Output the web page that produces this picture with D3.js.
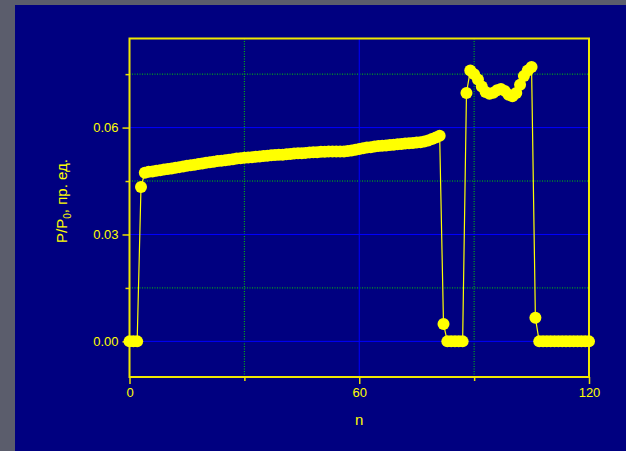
<!DOCTYPE html>
<html>
<head>
<meta charset="utf-8">
<script src="https://cdn.jsdelivr.net/npm/d3@7"></script>
<style>
   body { margin: 0; background: #5b5d6c; }
   .tick text { font-family: "Liberation Sans", Arial, sans-serif; font-size: 13px; fill: #ffff00; }
   .label { font-family: "Liberation Sans", Arial, sans-serif; fill: #ffff00; }
</style>
</head>
<body>
<div id="chart"></div>
<script>
const width = 626;
const height = 451;

// n = 0..120
const zerosStart = [0, 0, 0];
const risePoint  = [0.0433];
const plateau = [
   0.0473, 0.0476, 0.0477, 0.0479, 0.0480, 0.0482, 0.0484, 0.0485, 0.0487, 0.0489,
   0.0491, 0.0493, 0.0494, 0.0496, 0.0498, 0.0499, 0.0501, 0.0503, 0.0504, 0.0506,
   0.0507, 0.0508, 0.0510, 0.0511, 0.0513, 0.0514, 0.0515, 0.0516, 0.0517, 0.0518,
   0.0519, 0.0520, 0.0521, 0.0522, 0.0523, 0.0524, 0.0524, 0.0525, 0.0526, 0.0527,
   0.0528, 0.0528, 0.0529, 0.0530, 0.0531, 0.0531, 0.0532, 0.0532, 0.0533, 0.0533,
   0.0533, 0.0533, 0.0533, 0.0534, 0.0536, 0.0538, 0.0540, 0.0542, 0.0544, 0.0545,
   0.0547, 0.0548, 0.0549, 0.0550, 0.0551, 0.0552, 0.0553, 0.0554, 0.0555, 0.0556,
   0.0557, 0.0558, 0.0559, 0.0561, 0.0564, 0.0568, 0.0572, 0.0577
];
const drop1  = [0.0049, 0, 0, 0, 0, 0];
const peak   = [
   0.0697, 0.0760, 0.0750, 0.0735, 0.0715, 0.0700, 0.0695, 0.0698, 0.0705,
   0.0708, 0.0703, 0.0692, 0.0688, 0.0697, 0.0720, 0.0745, 0.0760, 0.0770
];
const drop2  = [0.0066, 0, 0, 0, 0, 0, 0, 0, 0, 0, 0, 0, 0, 0, 0];

const yValues = [].concat(zerosStart, risePoint, plateau, drop1, peak, drop2);
const data = yValues.map((v, i) => ({ n: i, v: v }));

const xMajor = [0, 60, 120];
const xMinor = [30, 90];
const yMajor = [0, 0.03, 0.06];
const yMinor = [0.015, 0.045, 0.075];

const margin = { top: 38.5, right: 37, bottom: 74, left: 129.5 };

const svg = d3.select("#chart").append("svg")
   .attr("width", width)
   .attr("height", height);

// navy panel
svg.append("rect")
   .attr("x", 15).attr("y", 5)
   .attr("width", width - 15).attr("height", height - 5)
   .style("fill", "#000080");

const x = d3.scaleLinear()
   .domain([0, 120])
   .range([margin.left, width - margin.right]);

const y = d3.scaleLinear()
   .domain([-0.01, 0.085])
   .range([height - margin.bottom, margin.top]);

// minor grid (dotted green)
svg.selectAll("line.xminor")
   .data(xMinor).enter().append("line")
   .attr("x1", d => x(d)).attr("x2", d => x(d))
   .attr("y1", y.range()[1]).attr("y2", y.range()[0])
   .style("stroke", "#00d000").style("stroke-width", 1)
   .style("stroke-dasharray", "1,1.5");
svg.selectAll("line.yminor")
   .data(yMinor).enter().append("line")
   .attr("x1", x.range()[0]).attr("x2", x.range()[1])
   .attr("y1", d => y(d)).attr("y2", d => y(d))
   .style("stroke", "#00d000").style("stroke-width", 1)
   .style("stroke-dasharray", "1,1.5");

// major grid (solid blue)
svg.selectAll("line.xmajor")
   .data(xMajor.slice(1, -1)).enter().append("line")
   .attr("x1", d => x(d)).attr("x2", d => x(d))
   .attr("y1", y.range()[1]).attr("y2", y.range()[0])
   .style("stroke", "#0000ff").style("stroke-width", 1);
svg.selectAll("line.ymajor")
   .data(yMajor).enter().append("line")
   .attr("x1", x.range()[0]).attr("x2", x.range()[1])
   .attr("y1", d => y(d)).attr("y2", d => y(d))
   .style("stroke", "#0000ff").style("stroke-width", 1);

// axes
const xAxis = svg.append("g")
   .attr("transform", "translate(0," + y.range()[0] + ")")
   .call(d3.axisBottom(x).tickValues(xMajor).tickSize(7).tickPadding(4).tickFormat(d3.format("d")));
const xAxisMinor = svg.append("g")
   .attr("transform", "translate(0," + y.range()[0] + ")")
   .call(d3.axisBottom(x).tickValues(xMinor).tickSize(4).tickFormat(""));
const yAxis = svg.append("g")
   .attr("transform", "translate(" + x.range()[0] + ",0)")
   .call(d3.axisLeft(y).tickValues(yMajor).tickSize(7).tickPadding(4).tickFormat(d3.format(".2f")));
const yAxisMinor = svg.append("g")
   .attr("transform", "translate(" + x.range()[0] + ",0)")
   .call(d3.axisLeft(y).tickValues(yMinor).tickSize(4).tickFormat(""));

[xAxis, xAxisMinor, yAxis, yAxisMinor].forEach(g => {
   g.select(".domain").remove();
   g.selectAll(".tick line").style("stroke", "#e8e000").style("stroke-width", 1.5);
});

// frame
svg.append("rect")
   .attr("x", x.range()[0]).attr("y", y.range()[1])
   .attr("width", x.range()[1] - x.range()[0])
   .attr("height", y.range()[0] - y.range()[1])
   .style("fill", "none")
   .style("stroke", "#f0e800").style("stroke-width", 2);

// data
const line = d3.line().x(d => x(d.n)).y(d => y(d.v));
svg.append("path")
   .datum(data)
   .attr("d", line)
   .style("fill", "none")
   .style("stroke", "#ffff00").style("stroke-width", 1.2);

svg.selectAll("circle.pt")
   .data(data).enter().append("circle")
   .attr("class", "pt")
   .attr("cx", d => x(d.n)).attr("cy", d => y(d.v))
   .attr("r", 6)
   .style("fill", "#ffff00");

// labels
svg.append("text")
   .attr("class", "label")
   .attr("x", x(60)).attr("y", 425)
   .style("text-anchor", "middle")
   .style("font-size", "15px")
   .text("n");

const yl = svg.append("text")
   .attr("class", "label")
   .attr("transform", "translate(67," + 201 + ") rotate(-90)")
   .style("text-anchor", "middle")
   .style("font-size", "15px");
yl.append("tspan").text("P/P");
yl.append("tspan").attr("dy", 4).style("font-size", "10px").text("0");
yl.append("tspan").attr("dy", -4).text(", пр. ед.");
</script>
</body>
</html>
